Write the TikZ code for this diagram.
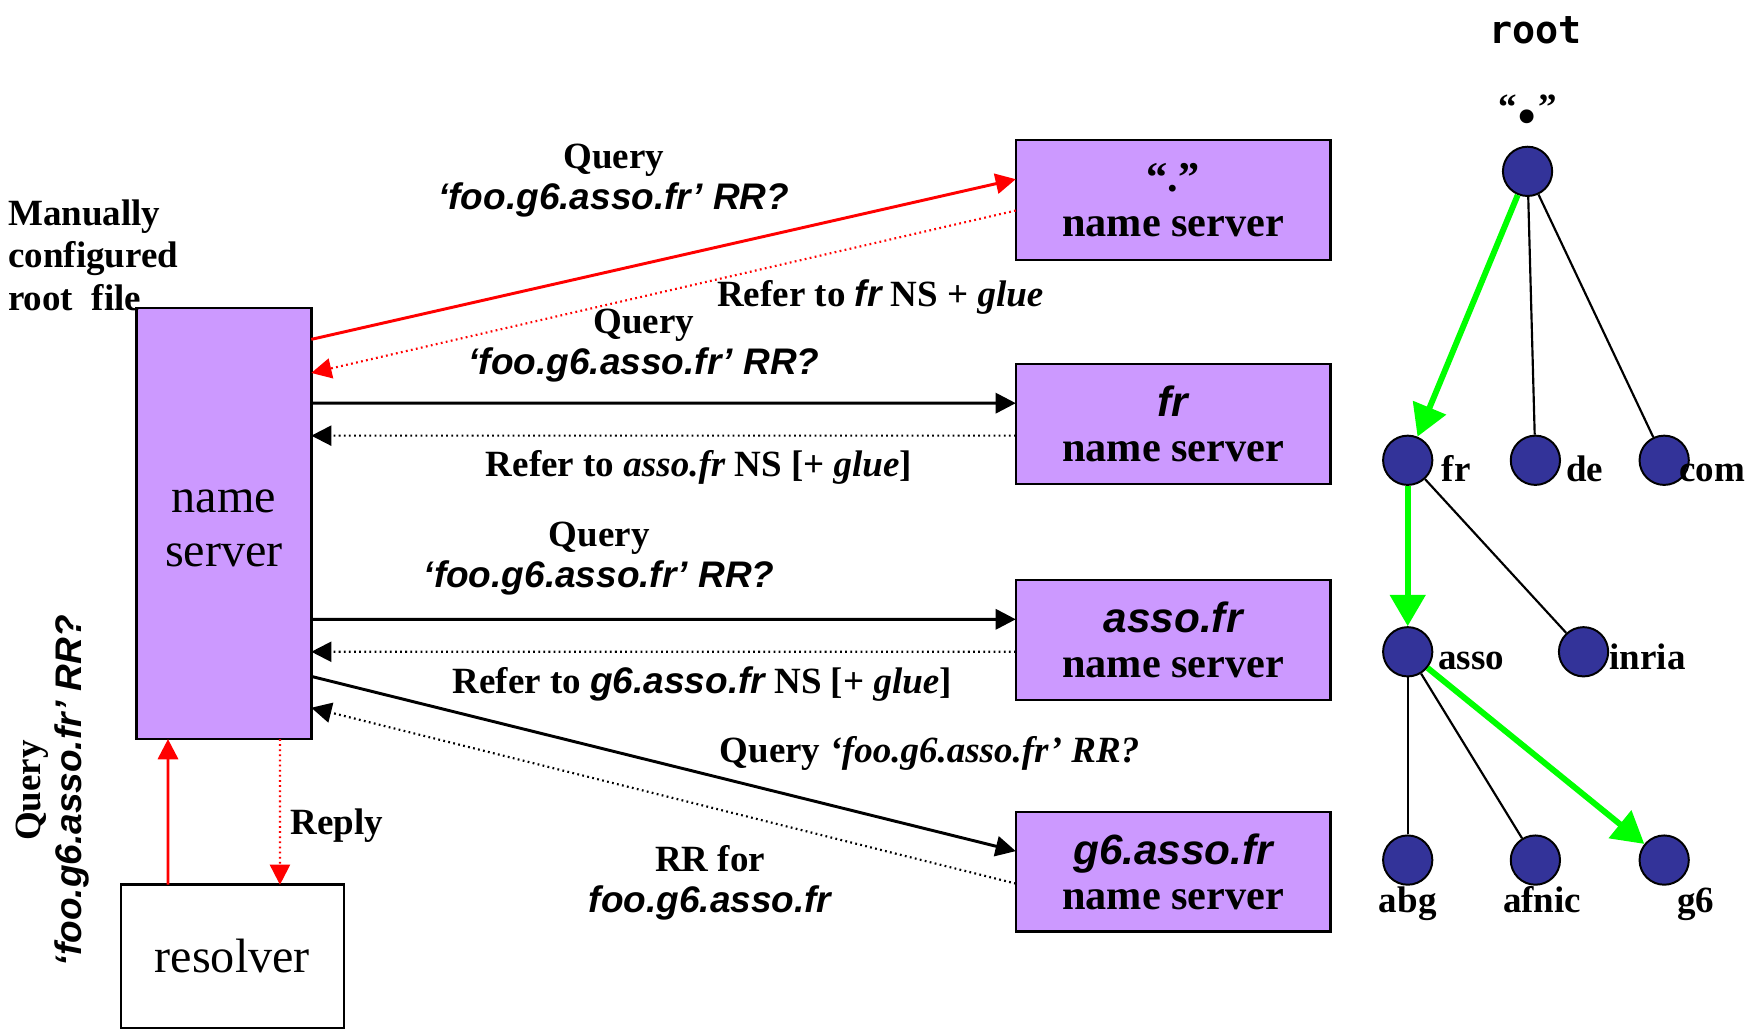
\documentclass[tikz,border=0pt]{standalone}
\usepackage{fontspec}
\setmainfont{Liberation Serif}
\newfontfamily\sansf{Liberation Sans}
\newfontfamily\monof{DejaVu Sans Mono}
\usetikzlibrary{arrows.meta}

\definecolor{nspurple}{HTML}{CC99FF}
\definecolor{treeblue}{HTML}{333399}
\definecolor{pathgreen}{HTML}{00FF00}

% sans bold italic and serif bold italic runs
\newcommand\sbi[1]{{\sansf\bfseries\itshape #1}}
\newcommand\rbi[1]{{\bfseries\itshape #1}}

\tikzset{
  lbl/.style={font=\fontsize{18.8}{21}\selectfont\bfseries, align=center, inner sep=0pt},
  nsbox/.style={draw, line width=1.3pt, outer sep=0pt, fill=nspurple, minimum width=5.62cm,
    minimum height=2.14cm, align=center, inner sep=0pt,
    font=\fontsize{21.5}{23}\selectfont\bfseries},
  bigbox/.style={draw, line width=1.3pt, outer sep=0pt, align=center, inner sep=0pt,
    font=\fontsize{24.5}{27.5}\selectfont},
  bigtxt/.style={align=center, inner sep=0pt, font=\fontsize{24.5}{27.5}\selectfont},
  tnode/.style={circle, draw, line width=1pt, fill=treeblue, minimum size=0.88cm, inner sep=0pt},
  tlbl/.style={font=\fontsize{18.8}{21}\selectfont\bfseries, inner sep=0pt},
  qry/.style={line width=1.5pt, -{Triangle[length=0.36cm, width=0.36cm]}},
  rep/.style={line width=1.1pt, dash pattern=on 0.9pt off 1.7pt, -{Triangle[length=0.36cm, width=0.36cm]}},
  tedge/.style={line width=1.1pt},
  walk/.style={line width=3pt, draw=pathgreen, -{Triangle[length=0.56cm, width=0.62cm, fill=pathgreen]}}
}

\begin{document}
\begin{tikzpicture}[x=0.02cm, y=-0.02cm]
\useasboundingbox (0,0) rectangle (1568,922);

% servers
\node[bigbox, fill=nspurple, minimum width=3.12cm, minimum height=7.7cm] (ns) at (200,467.5) {};
\node[bigtxt] (nstext) at (200,472) {name\\server};
\node[bigbox, fill=white, minimum width=3.98cm, minimum height=2.56cm] (res) at (207.5,854) {resolver};
\node[nsbox] (rootns) at (1047.5,178.5) {“.”\\name server};
\node[nsbox] (frns) at (1047.5,378.5) {\sbi{fr}\\name server};
\node[nsbox] (assons) at (1047.5,571.5) {\sbi{asso.fr}\\name server};
\node[nsbox] (g6ns) at (1047.5,778.5) {\sbi{g6.asso.fr}\\name server};

% side notes
\node[lbl, align=left, anchor=north west, font=\fontsize{18.8}{21.6}\selectfont\bfseries] (manual) at (7,178)
  {Manually\\configured\\root\ \ file};
\node[lbl, rotate=90] (rq) at (47,706) {Query\\\sbi{‘foo.g6.asso.fr’ RR?}};
\node[lbl, anchor=west] (reply) at (259,737.5) {Reply};

% resolver <-> local name server
\draw[qry, red] ([xshift=0.84cm]res.north west) -- ([xshift=0.56cm]ns.south west);
\draw[rep, red] ([xshift=2.56cm]ns.south west) -- ([xshift=2.84cm]res.north west);

% iterative queries and referrals
\draw[qry, red] ([yshift=-0.56cm]ns.north east) -- ([yshift=0.37cm]rootns.west);
\draw[rep, red] ([yshift=-0.19cm]rootns.west) -- ([yshift=-1.16cm]ns.north east);
\draw[qry] ([yshift=-1.7cm]ns.north east) -- ([yshift=0.37cm]frns.west);
\draw[rep] ([yshift=-0.21cm]frns.west) -- ([yshift=-2.28cm]ns.north east);
\draw[qry] ([yshift=-5.56cm]ns.north east) -- ([yshift=0.37cm]assons.west);
\draw[rep] ([yshift=-0.21cm]assons.west) -- ([yshift=-6.14cm]ns.north east);
\draw[qry] ([yshift=-6.58cm]ns.north east) -- ([yshift=0.37cm]g6ns.west);
\draw[rep] ([yshift=-0.21cm]g6ns.west) -- ([yshift=-7.14cm]ns.north east);

% message labels
\node[lbl] (q1) at (548,161.5) {Query\\\sbi{‘foo.g6.asso.fr’ RR?}};
\node[lbl] (r1) at (786,265.5) {Refer to \sbi{fr} NS + \rbi{glue}};
\node[lbl] (q2) at (575,308.5) {Query\\\sbi{‘foo.g6.asso.fr’ RR?}};
\node[lbl] (r2) at (624,417.5) {Refer to \rbi{asso.fr} NS [+ \rbi{glue}]};
\node[lbl] (q3) at (535,498.5) {Query\\\sbi{‘foo.g6.asso.fr’ RR?}};
\node[lbl] (r3) at (627,610.5) {Refer to \sbi{g6.asso.fr} NS [+ \rbi{glue}]};
\node[lbl] (q4) at (830,672.5) {Query \rbi{‘foo.g6.asso.fr’ RR?}};
\node[lbl] (rr) at (634,788.5) {RR for\\\sbi{foo.g6.asso.fr}};

% domain tree
\node[inner sep=0pt, font=\monof\fontsize{19.5}{22}\selectfont\bfseries] (rootlbl) at (1371,27) {root};
\node[tlbl] (dotlbl) at (1364,98) {“\raisebox{-1.5pt}{\scalebox{2.3}{.}}”};

\node[tnode] (root) at (1364,153) {};
\node[tnode] (fr) at (1257,411) {};
\node[tnode] (de) at (1371,411) {};
\node[tnode] (com) at (1486,411) {};
\node[tnode] (asso) at (1257,582) {};
\node[tnode] (inria) at (1414,582) {};
\node[tnode] (abg) at (1257,768) {};
\node[tnode] (afnic) at (1371,768) {};
\node[tnode] (g6) at (1486,768) {};

\draw[tedge] (root) -- (de);
\draw[tedge] (root) -- (com);
\draw[tedge] (fr) -- (inria);
\draw[tedge] (asso) -- (abg);
\draw[tedge] (asso) -- (afnic);

\draw[walk] (root) -- (fr);
\draw[walk] (fr) -- (asso);
\draw[walk] (asso) -- (g6);

\node[tlbl, anchor=base west] (frl) at (1287,430) {fr};
\node[tlbl, anchor=base west] (del) at (1398,430) {de};
\node[tlbl, anchor=base west] (coml) at (1499,430) {com};
\node[tlbl, anchor=base west] (assol) at (1284,598) {asso};
\node[tlbl, anchor=base west] (inrial) at (1437,598) {inria};
\node[tlbl, anchor=base] (abgl) at (1257,815) {abg};
\node[tlbl, anchor=base] (afnicl) at (1377,815) {afnic};
\node[tlbl, anchor=base] (g6l) at (1514,815) {g6};
\end{tikzpicture}
\end{document}
